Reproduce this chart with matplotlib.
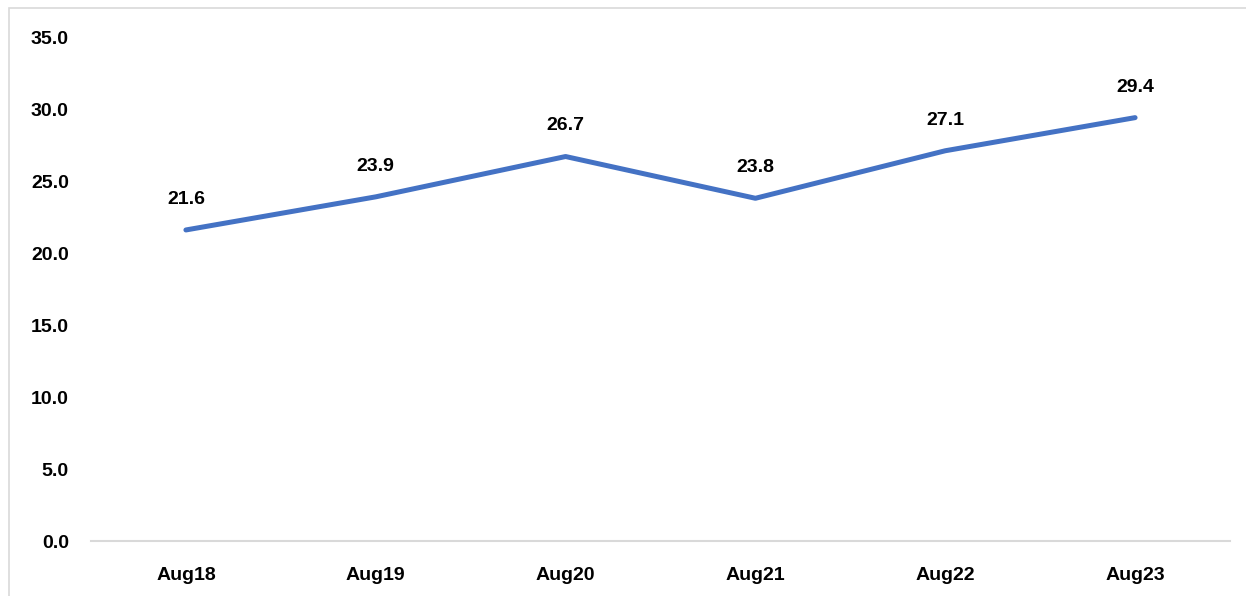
import matplotlib.pyplot as plt
from matplotlib.patches import Rectangle

months = ["Aug18", "Aug19", "Aug20", "Aug21", "Aug22", "Aug23"]
values = [21.6, 23.9, 26.7, 23.8, 27.1, 29.4]
yticks = [0, 5, 10, 15, 20, 25, 30, 35]

plt.rcParams['font.family'] = 'Liberation Sans'
plt.rcParams['font.weight'] = 'bold'

fig = plt.figure(figsize=(12.46, 5.96), dpi=100)
ax = fig.add_axes([91 / 1246, 1 - 541 / 596, (1230 - 91) / 1246, (541 - 37) / 596])

x = list(range(len(months)))
ax.plot(x, values, color="#4472C4", linewidth=3.6, solid_capstyle="round")

for xi, v in zip(x, values):
    ax.annotate(f"{v:.1f}", (xi, v), xytext=(0, 22), textcoords="offset points",
                ha="center", va="center", fontsize=14, fontweight="bold")

ax.set_xlim(-0.5, len(months) - 0.5)
ax.set_ylim(0, 35)
ax.set_xticks(x)
ax.set_xticklabels(months, fontsize=14, fontweight="bold")
ax.set_yticks(yticks)
ax.set_yticklabels([f"{t:.1f}" for t in yticks], fontsize=14, fontweight="bold")
ax.tick_params(axis="both", length=0)
ax.tick_params(axis="y", pad=16)
ax.tick_params(axis="x", pad=18.5)

for s in ["top", "right", "left"]:
    ax.spines[s].set_visible(False)
ax.spines["bottom"].set_color("#D9D9D9")
ax.spines["bottom"].set_linewidth(1.5)

# outer chart frame (only top and left visible in the crop)
fig.patches.append(Rectangle((9 / 1246, -0.1), 1.2, 1 - 8 / 596 + 0.1,
                             transform=fig.transFigure, fill=False,
                             edgecolor="#D9D9D9", linewidth=1.2))

fig.savefig("out.png", dpi=100)
